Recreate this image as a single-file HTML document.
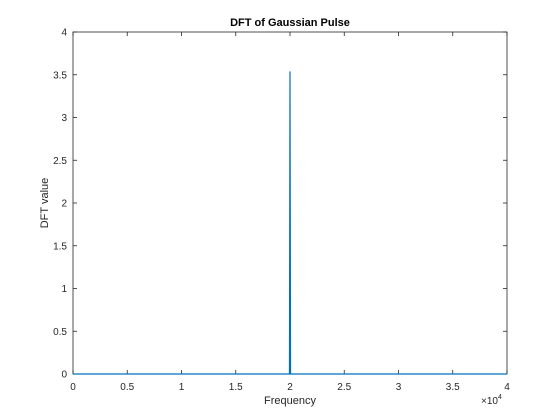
<!DOCTYPE html>
<html><head><meta charset="utf-8"><style>
body{margin:0;background:#fff;}
svg{display:block;font-family:"Liberation Sans",Arial,sans-serif;}
</style></head><body>
<svg id="chart" width="560" height="420">
<rect width="560" height="420" fill="#fff"/>
</svg>
<script>
const freqs=[0,19950,20000,20050,40000];
const dftValues=[0,0,3.54,0,0];
const xTicks=[0,5000,10000,15000,20000,25000,30000,35000,40000];
const xTickLabels=["0","0.5","1","1.5","2","2.5","3","3.5","4"];
const yTicks=[0,0.5,1,1.5,2,2.5,3,3.5,4];
const yTickLabels=["0","0.5","1","1.5","2","2.5","3","3.5","4"];
const L=73,R=507,T=32,B=374;
const sx=v=>L+(v-0)/(40000)*(R-L);
const sy=v=>B-(v/4)*(B-T);
const svg=document.getElementById('chart');
const NS='http://www.w3.org/2000/svg';
function mk(tag,attrs,parent){const e=document.createElementNS(NS,tag);for(const k in attrs)e.setAttribute(k,attrs[k]);(parent||svg).appendChild(e);return e;}
const axG=mk('g',{});


const box=mk('rect',{x:L,y:T,width:R-L,height:B-T,fill:'#fff',stroke:'#262626','stroke-width':0.8},axG);


xTicks.forEach((t,i)=>{
 const x=sx(t);
 mk('line',{x1:x,x2:x,y1:B,y2:B-4,stroke:'#262626','stroke-width':0.8},axG);
 mk('line',{x1:x,x2:x,y1:T,y2:T+4,stroke:'#262626','stroke-width':0.8},axG);
 const tx=mk('text',{x:x,y:B+16,'font-size':10,'text-anchor':'middle',fill:'#262626'},axG);
 tx.textContent=xTickLabels[i];
 
 
});
yTicks.forEach((t,i)=>{
 const y=sy(t);
 mk('line',{x1:L,x2:L+4,y1:y,y2:y,stroke:'#262626','stroke-width':0.8},axG);
 mk('line',{x1:R,x2:R-4,y1:y,y2:y,stroke:'#262626','stroke-width':0.8},axG);
 const tx=mk('text',{x:L-6,y:y+3.5,'font-size':10,'text-anchor':'end',fill:'#262626'},axG);
 tx.textContent=yTickLabels[i];
 
 
});
const pts=freqs.map((f,i)=>sx(f).toFixed(2)+','+sy(dftValues[i]).toFixed(2)).join(' ');
const line=mk('polyline',{points:pts,fill:'none',stroke:'#0072bd','stroke-width':1.2});


const title=mk('text',{x:(L+R)/2,y:26,'font-size':11,'font-weight':'bold','text-anchor':'middle',fill:'#000'});
title.textContent='DFT of Gaussian Pulse';


const xl=mk('text',{x:(L+R)/2,y:404,'font-size':11,'text-anchor':'middle',fill:'#262626'});
xl.textContent='Frequency';


const yl=mk('text',{x:0,y:0,'font-size':11,'text-anchor':'middle',fill:'#262626',transform:`translate(48,${(T+B)/2}) rotate(-90)`});
yl.textContent='DFT value';


const ex=mk('text',{x:481,y:404,'font-size':10,fill:'#262626'});
ex.innerHTML='×10<tspan dy="-5" font-size="7">4</tspan>';


</script>
</body></html>
